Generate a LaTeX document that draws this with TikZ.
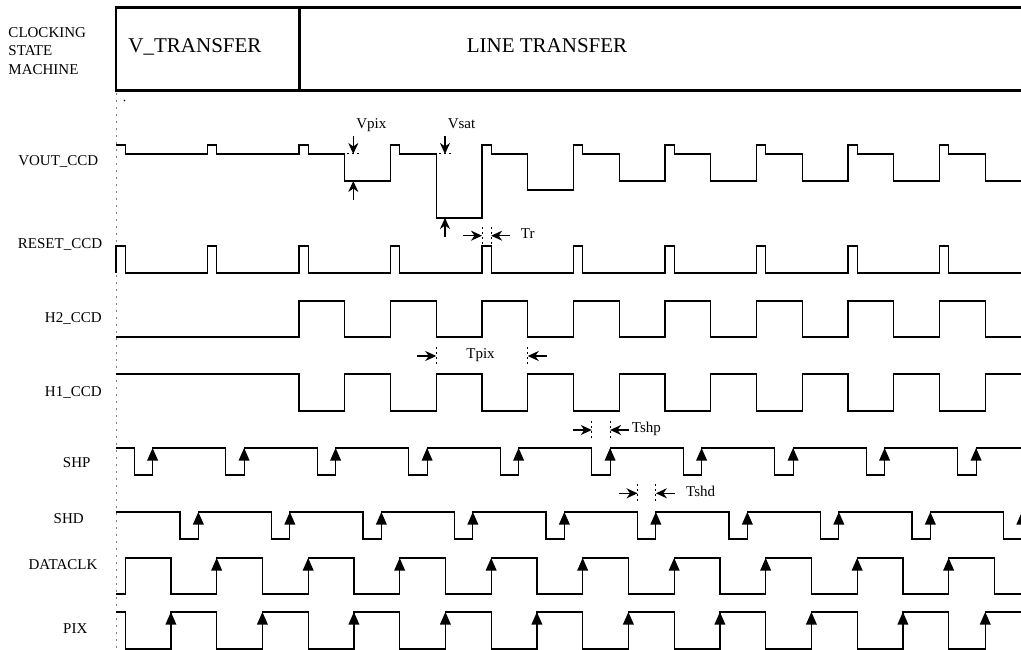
\documentclass[tikz,border=0pt]{standalone}
\usepackage{fontspec}
\setmainfont{Liberation Serif}
\usepackage{tikz}
\usetikzlibrary{calc}
\usetikzlibrary{arrows.meta}

\def\xo{116}
\def\T{91.5}

\tikzset{
	wave/.style={line width=1.2pt},
	dim/.style={-{Stealth[length=11pt,width=10pt,inset=3.5pt]},line width=1.2pt},
	ext/.style={line width=1pt,dash pattern=on 2pt off 3pt},
	lbl/.style={font=\fontsize{15}{18}\selectfont,inner sep=0pt,anchor=base},
	ttl/.style={font=\fontsize{21}{25}\selectfont,inner sep=0pt,anchor=base},
	uparrow/.pic={\fill (-5.5,12.5) -- (0,0) -- (5.5,12.5) -- cycle;}
}

\begin{document}
\begin{tikzpicture}[x=1pt,y=-1pt]
	\useasboundingbox (0,0) rectangle (1021,650);
	\clip (0,0) rectangle (1021,650);
	
	% state machine
	\draw [line width=2.6pt] (1030,7.5) -- (116,7.5) -- (116,90.3) -- (1030,90.3);
	\draw [line width=2.6pt] (299.5,7.5) -- (299.5,90.3);
	\node [ttl] (vtr) at (195,52.3) {V\_TRANSFER};
	\node [ttl] (ltr) at (547,52.3) {LINE TRANSFER};
	\foreach \t/\y/\i in {CLOCKING/37.3/1, STATE/55.7/2, MACHINE/74.3/3} {
		\node [lbl,anchor=base west] (csm\i) at (8.3,\y) {\t};
	}
	
	\draw [gray,line width=1pt,dash pattern=on 2pt off 5pt] (116,93) -- (116,650);
	\fill (124.5,100.5) circle (0.8);
	
	\foreach \t/\x/\y/\n in {VOUT\_CCD/58.3/165.7/vout, RESET\_CCD/60/248.3/reset, H2\_CCD/73.3/322.7/htwo, H1\_CCD/73.3/396/hone, SHP/76.7/467.3/shp, SHD/68.7/523.3/shd, DATACLK/63/569.3/dclk, PIX/75.3/633/pix} {
		\node [lbl] (\n) at (\x,\y) {\t};
	}
	
	% waveforms
	\draw [wave] (116,145) \foreach \k/\lo in {0/154,1/154,2/181,3/218,4/190,5/181,6/181,7/181,8/181,9/181} {
		-- ({\xo+\k*\T},145) -- ++(9.15,0) -- ++(0,9) -- ({\xo+\k*\T+45.75},154) -- ({\xo+\k*\T+45.75},\lo) -- ({\xo+(\k+1)*\T},\lo)
	};
	\draw [wave] (116,273) \foreach \k in {0,...,9} {
		-- ({\xo+\k*\T},273) -- ++(0,-27) -- ++(9.15,0) -- ++(0,27)
	} -- (1021,273);
	\draw [wave] (116,337) \foreach \k in {2,...,9} {
		-- ({\xo+\k*\T},337) -- ++(0,-36) -- ++(45.75,0) -- ++(0,36)
	} -- (1021,337);
	\draw [wave] (116,374) \foreach \k in {2,...,9} {
		-- ({\xo+\k*\T},374) -- ++(0,37) -- ++(45.75,0) -- ++(0,-37)
	} -- (1021,374);
	\draw [wave] (116,448) \foreach \k in {0,...,9} {
		-- ({\xo+\k*\T+18.3},448) -- ++(0,27) -- ++(18.3,0) -- ++(0,-27)
	} -- (1021,448);
	\draw [wave] (116,512) \foreach \k in {0,...,9} {
		-- ({\xo+\k*\T+64.05},512) -- ++(0,27) -- ++(18.3,0) -- ++(0,-27)
	} -- (1021,512);
	\draw [wave] (116,594) \foreach \k in {0,...,9} {
		-- ({\xo+\k*\T+9.15},594) -- ++(0,-36) -- ++(45.75,0) -- ++(0,36)
	} -- (1021,594);
	\draw [wave] (116,612) \foreach \k/\w in {0/45.75,1/45.75,2/45.75,3/45.75,4/45.75,5/45.75,6/45.75,7/45.75,8/45.75,9/36.6} {
		-- ({\xo+\k*\T+9.15},612) -- ++(0,37) -- ++(\w,0) -- ++(0,-37)
	} -- (1021,612);
	
	% sampling edges
	\foreach \k in {0,...,9} {
		\pic at ({\xo+\k*\T+36.6},448) {uparrow};
		\pic at ({\xo+\k*\T+82.35},512) {uparrow};
	}
	\foreach \k in {1,...,9} {
		\pic at ({\xo+\k*\T+9.15},558) {uparrow};
	}
	\foreach \k/\w in {0/45.75,1/45.75,2/45.75,3/45.75,4/45.75,5/45.75,6/45.75,7/45.75,8/45.75,9/36.6} {
		\pic at ({\xo+\k*\T+9.15+\w},612) {uparrow};
	}
	
	% levels
	\foreach \x/\lo/\n in {353.3/181/vpix, 445/218/vsat} {
		\coordinate (\n a) at (\x,154);
		\coordinate (\n b) at (\x,\lo);
		\draw [dim] ($(\n a)+(0,-18)$) -- (\n a);
		\draw [dim] ($(\n b)+(0,19)$) -- (\n b);
		\draw [ext] ($(\n a)+(-6,0)$) -- ($(\n a)+(8,0)$);
	}
	\node [lbl] (lvpix) at (371.3,129) {Vpix};
	\node [lbl] (lvsat) at (461.5,129) {Vsat};
	
	% times
	\foreach \a/\b/\y/\n in {482/491.15/235.7/tr, 436.25/527.75/356/tpix, 591.8/610.1/430/tshp, 637.55/655.85/493.3/tshd} {
		\coordinate (\n a) at (\a,\y);
		\coordinate (\n b) at (\b,\y);
		\draw [dim] ($(\n a)+(-19,0)$) -- (\n a);
		\draw [dim] ($(\n b)+(19,0)$) -- (\n b);
		\draw [ext] ($(\n a)+(0,-9)$) -- ($(\n a)+(0,8)$);
		\draw [ext] ($(\n b)+(0,-9)$) -- ($(\n b)+(0,8)$);
	}
	\node [lbl,anchor=base west] (ltr) at (520.7,238.3) {Tr};
	\node [lbl] (ltpix) at (480.5,358.3) {Tpix};
	\node [lbl,anchor=base west] (ltshp) at (631.7,432.3) {Tshp};
	\node [lbl,anchor=base west] (ltshd) at (686,496) {Tshd};
\end{tikzpicture}
\end{document}
